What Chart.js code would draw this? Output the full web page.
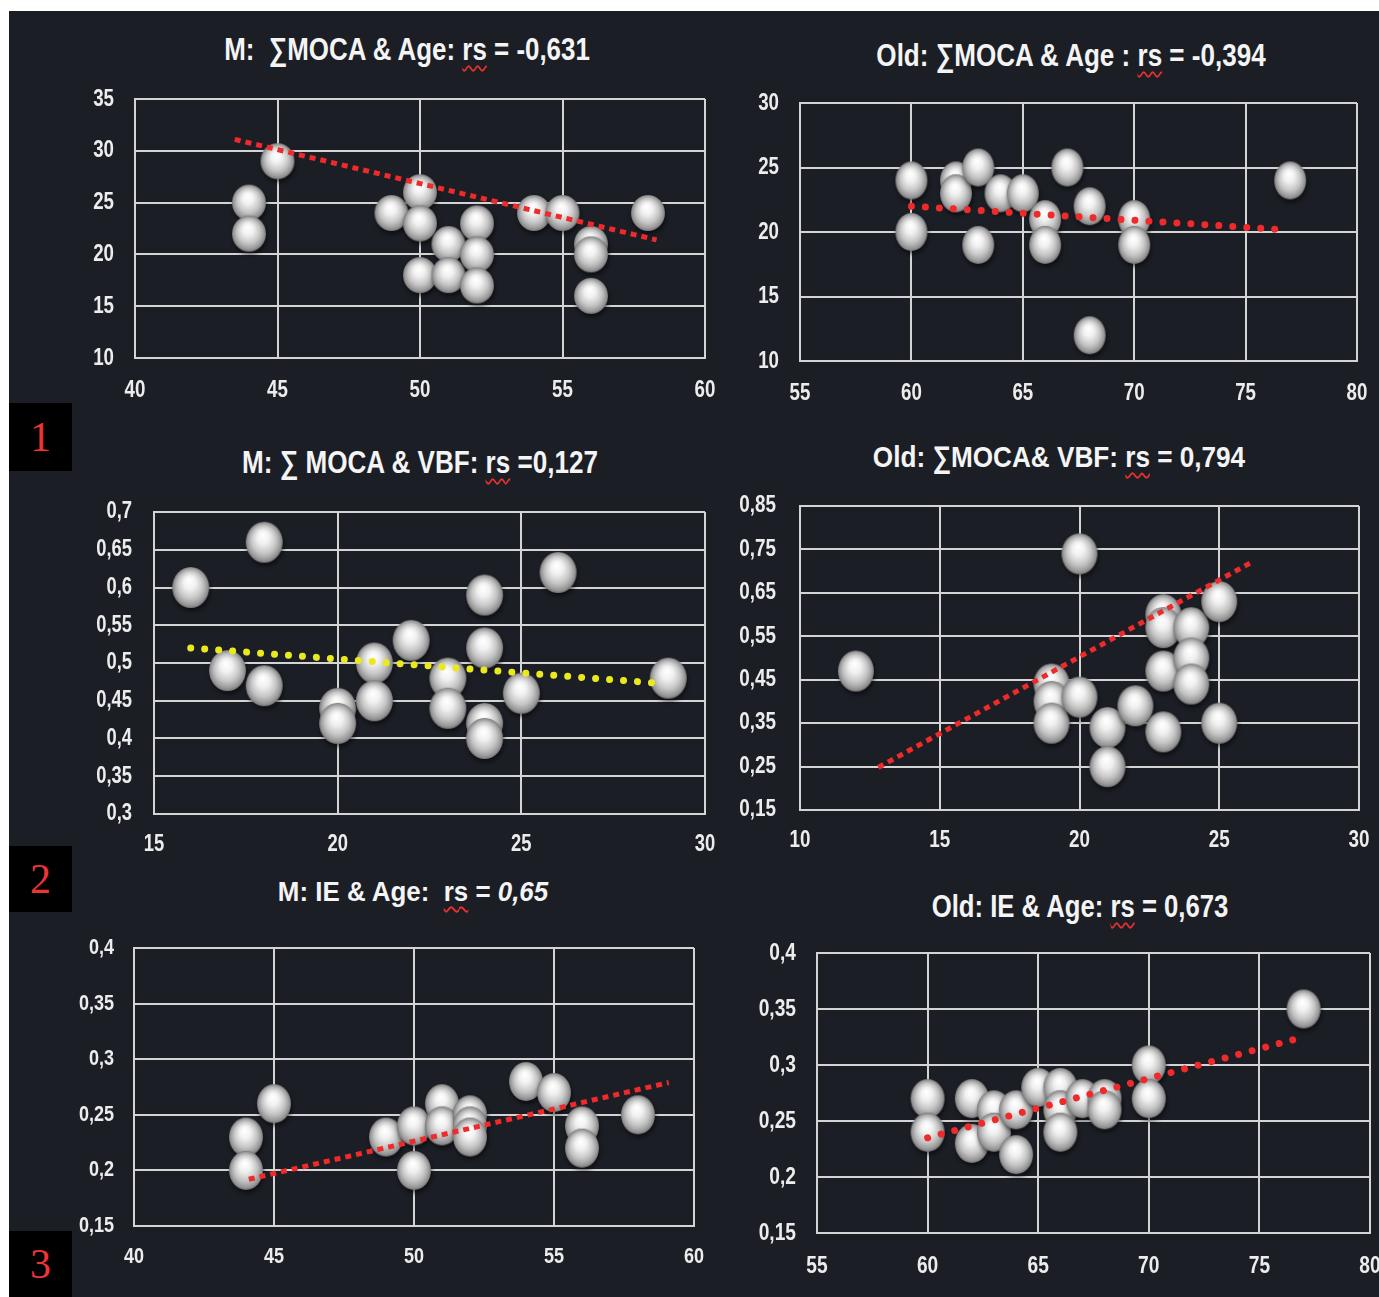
<!DOCTYPE html>
<html>
<head>
<meta charset="utf-8">
<script src="https://cdn.jsdelivr.net/npm/chart.js@4.4.1/dist/chart.umd.min.js"></script>
<style>
  html, body { margin: 0; padding: 0; background: #ffffff; }
  body { width: 1379px; height: 1297px; overflow: hidden; position: relative; }
  #panel { position: absolute; left: 9px; top: 11px; width: 1370px; height: 1286px; background: #1c1e26; }
  canvas { position: absolute; }
  .ttl { position: absolute; transform: translate(-50%, -50%); white-space: pre; color: #f4f4f4;
         font-family: 'Liberation Sans', Arial, sans-serif; font-weight: bold; line-height: 1; }
  .rs { text-decoration: underline wavy #e8312c; text-decoration-thickness: 1.5px; text-underline-offset: 5px; }
  .tag { position: absolute; left: 9px; width: 63px; background: #000000; color: #ee3434;
         font-family: 'Liberation Serif', 'Times New Roman', serif; font-size: 42px;
         display: flex; align-items: center; justify-content: center; }
</style>
</head>
<body>
<div id="panel"></div>
<div class="tag" style="top:403px;height:68px">1</div>
<div class="tag" style="top:846px;height:66px">2</div>
<div class="tag" style="top:1231px;height:66px">3</div>

<div class="ttl" data-w="366" style="left:407px;top:49px;font-size:32px">M:  ∑MOCA &amp; Age: <span class="rs">rs</span> = -0,631</div>
<div class="ttl" data-w="389" style="left:1071px;top:55px;font-size:32px">Old: ∑MOCA &amp; Age : <span class="rs">rs</span> = -0,394</div>
<div class="ttl" data-w="356" style="left:420px;top:462px;font-size:32px">M: ∑ MOCA &amp; VBF: <span class="rs">rs</span> =0,127</div>
<div class="ttl" data-w="372" style="left:1059px;top:457px;font-size:30px">Old: ∑MOCA&amp; VBF: <span class="rs">rs</span> = 0,794</div>
<div class="ttl" data-w="270" style="left:413px;top:892px;font-size:28px">M: IE &amp; Age:  <span class="rs">rs</span> = <i>0,65</i></div>
<div class="ttl" data-w="297" style="left:1080px;top:906px;font-size:32px">Old: IE &amp; Age: <span class="rs">rs</span> = 0,673</div>

<script>
// ---- 1: M group, MOCA total vs age ----
const c1Age   = [44, 44, 45, 49, 50, 50, 50, 51, 51, 52, 52, 52, 54, 55, 56, 56, 56, 58];
const c1Moca  = [25, 22, 29, 24, 26, 23, 18, 21, 18, 23, 20, 17, 24, 24, 21, 20, 16, 24];
const c1FitX  = [43.5, 58.3];
const c1FitY  = [31.1, 21.4];
const c1XTicks = [40, 45, 50, 55, 60];
const c1YTicks = [10, 15, 20, 25, 30, 35];

// ---- 1: Old group, MOCA total vs age ----
const c2Age   = [60, 60, 62, 62, 63, 63, 64, 65, 66, 66, 67, 68, 68, 70, 70, 77];
const c2Moca  = [24, 20, 24, 23, 25, 19, 23, 23, 21, 19, 25, 22, 12, 21, 19, 24];
const c2FitX  = [60, 76.5];
const c2FitY  = [22.0, 20.2];
const c2XTicks = [55, 60, 65, 70, 75, 80];
const c2YTicks = [10, 15, 20, 25, 30];

// ---- 2: M group, MOCA total vs VBF ----
const c3Moca  = [16, 17, 18, 18, 20, 20, 21, 21, 22, 23, 23, 24, 24, 24, 24, 25, 26, 29];
const c3Vbf   = [0.60, 0.49, 0.66, 0.47, 0.44, 0.42, 0.50, 0.45, 0.53, 0.48, 0.44, 0.59, 0.52, 0.42, 0.40, 0.46, 0.62, 0.48];
const c3FitX  = [16, 28.8];
const c3FitY  = [0.52, 0.473];
const c3XTicks = [15, 20, 25, 30];
const c3YTicks = [0.3, 0.35, 0.4, 0.45, 0.5, 0.55, 0.6, 0.65, 0.7];

// ---- 2: Old group, MOCA total vs VBF ----
const c4Moca  = [12, 19, 19, 19, 20, 20, 21, 21, 22, 23, 23, 23, 23, 24, 24, 24, 25, 25];
const c4Vbf   = [0.47, 0.44, 0.40, 0.35, 0.74, 0.41, 0.34, 0.25, 0.39, 0.60, 0.57, 0.47, 0.33, 0.57, 0.50, 0.44, 0.63, 0.35];
const c4FitX  = [12.8, 26.2];
const c4FitY  = [0.248, 0.722];
const c4XTicks = [10, 15, 20, 25, 30];
const c4YTicks = [0.15, 0.25, 0.35, 0.45, 0.55, 0.65, 0.75, 0.85];

// ---- 3: M group, IE vs age ----
const c5Age   = [44, 44, 45, 49, 50, 50, 51, 51, 52, 52, 52, 54, 55, 56, 56, 58];
const c5Ie    = [0.23, 0.20, 0.26, 0.23, 0.24, 0.20, 0.26, 0.24, 0.25, 0.24, 0.23, 0.28, 0.27, 0.24, 0.22, 0.25];
const c5FitX  = [44.1, 59.1];
const c5FitY  = [0.192, 0.279];
const c5XTicks = [40, 45, 50, 55, 60];
const c5YTicks = [0.15, 0.2, 0.25, 0.3, 0.35, 0.4];

// ---- 3: Old group, IE vs age ----
const c6Age   = [60, 60, 62, 62, 63, 63, 64, 64, 65, 66, 66, 66, 67, 68, 68, 70, 70, 77];
const c6Ie    = [0.27, 0.24, 0.27, 0.23, 0.26, 0.24, 0.26, 0.22, 0.28, 0.28, 0.26, 0.24, 0.27, 0.27, 0.26, 0.30, 0.27, 0.35];
const c6FitX  = [60, 76.8];
const c6FitY  = [0.235, 0.324];
const c6XTicks = [55, 60, 65, 70, 75, 80];
const c6YTicks = [0.15, 0.2, 0.25, 0.3, 0.35, 0.4];

const GRID = '#d4d4d4';
const TXT = '#ececec';
const FONT = "'Liberation Sans', Arial, sans-serif";
const RED = '#ee2a2a';
const YELLOW = '#e9e91c';

// narrow the heading text horizontally to its column width
document.querySelectorAll('.ttl').forEach(el => {
  const k = Number(el.dataset.w) / el.offsetWidth;
  el.style.transform = `translate(-50%, -50%) scaleX(${k})`;
});

// Shaded silver sphere used as the marker image
function ball(w, h) {
  const pad = 7;
  const c = document.createElement('canvas');
  c.width = w + pad * 2; c.height = h + pad * 2;
  const g = c.getContext('2d');
  const cx = c.width / 2, cy = c.height / 2;
  g.save();
  g.filter = 'blur(2px)';
  g.fillStyle = 'rgba(0,0,0,0.55)';
  g.beginPath(); g.ellipse(cx + 1, cy + 3, w / 2, h / 2, 0, 0, Math.PI * 2); g.fill();
  g.restore();
  g.save();
  g.translate(cx, cy); g.scale(1, h / w);
  const r = w / 2;
  const grad = g.createRadialGradient(-r * 0.08, -r * 0.35, r * 0.04, 0, 0, r);
  grad.addColorStop(0, '#ffffff');
  grad.addColorStop(0.3, '#f1f1f1');
  grad.addColorStop(0.65, '#c6c6c6');
  grad.addColorStop(0.9, '#979797');
  grad.addColorStop(1, '#767676');
  g.fillStyle = grad;
  g.beginPath(); g.arc(0, 0, r, 0, Math.PI * 2); g.fill();
  g.restore();
  return c;
}

const fmt = v => String(v).replace('.', ',');

// Tall, narrow tick numbers placed at the scale's own tick positions
const narrowTicks = {
  id: 'narrowTicks',
  afterDraw(chart, args, o) {
    const { ctx, chartArea } = chart;
    const xs = chart.scales.x, ys = chart.scales.y;
    ctx.save();
    ctx.fillStyle = TXT;
    ctx.font = `bold ${o.size}px ${FONT}`;
    ctx.textBaseline = 'middle';
    xs.ticks.forEach(t => {
      ctx.save();
      ctx.translate(xs.getPixelForValue(t.value), chartArea.bottom + o.xGap);
      ctx.scale(o.sx, 1);
      ctx.textAlign = 'center';
      ctx.fillText(fmt(t.value), 0, 0);
      ctx.restore();
    });
    ys.ticks.forEach(t => {
      ctx.save();
      ctx.translate(chartArea.left - o.yGap, ys.getPixelForValue(t.value));
      ctx.scale(o.sx, 1);
      ctx.textAlign = 'right';
      ctx.fillText(fmt(t.value), 0, 0);
      ctx.restore();
    });
    ctx.restore();
  }
};

const squareDots = { borderWidth: 5, borderDash: [6, 5], borderCapStyle: 'butt' };
const roundDots  = { borderWidth: 7, borderDash: [0.001, 14], borderCapStyle: 'round' };

const charts = [
  { area: [135, 99, 705, 358],   x: c1Age,  y: c1Moca, fx: c1FitX, fy: c1FitY, xt: c1XTicks, yt: c1YTicks, lbl: { size: 24, sx: 0.78, xGap: 32, yGap: 21 }, ball: [34, 36], color: RED,    dots: squareDots },
  { area: [800, 103, 1357, 361], x: c2Age,  y: c2Moca, fx: c2FitX, fy: c2FitY, xt: c2XTicks, yt: c2YTicks, lbl: { size: 24, sx: 0.78, xGap: 32, yGap: 21 }, ball: [32, 38], color: RED,    dots: roundDots },
  { area: [154, 512, 705, 814],  x: c3Moca, y: c3Vbf,  fx: c3FitX, fy: c3FitY, xt: c3XTicks, yt: c3YTicks, lbl: { size: 23, sx: 0.8, xGap: 31, yGap: 22 }, ball: [37, 41], color: YELLOW, dots: roundDots },
  { area: [800, 506, 1359, 810], x: c4Moca, y: c4Vbf,  fx: c4FitX, fy: c4FitY, xt: c4XTicks, yt: c4YTicks, lbl: { size: 23, sx: 0.82, xGap: 31, yGap: 24 }, ball: [36, 41], color: RED,    dots: squareDots },
  { area: [134, 948, 694, 1226], x: c5Age,  y: c5Ie,   fx: c5FitX, fy: c5FitY, xt: c5XTicks, yt: c5YTicks, lbl: { size: 22, sx: 0.82, xGap: 31, yGap: 20 }, ball: [34, 39], color: RED,    dots: squareDots },
  { area: [817, 953, 1370, 1233], x: c6Age, y: c6Ie,   fx: c6FitX, fy: c6FitY, xt: c6XTicks, yt: c6YTicks, lbl: { size: 24, sx: 0.8, xGap: 33, yGap: 21 }, ball: [34, 39], color: RED,    dots: roundDots }
];

function build(spec) {
  const padL = 90, padT = 20, padR = 30, padB = 60;
  const [l, t, r, b] = spec.area;
  const W = r - l + padL + padR, H = b - t + padT + padB;
  const cv = document.createElement('canvas');
  cv.width = W; cv.height = H;
  cv.style.left = (l - padL) + 'px'; cv.style.top = (t - padT) + 'px';
  cv.style.width = W + 'px'; cv.style.height = H + 'px';
  document.body.appendChild(cv);

  const axis = (ticks, fit) => ({
    type: 'linear',
    min: ticks[0],
    max: ticks[ticks.length - 1],
    afterBuildTicks: s => { s.ticks = ticks.map(v => ({ value: v })); },
    afterFit: fit,
    grid: { color: GRID, lineWidth: 2, drawTicks: false },
    border: { display: true, color: GRID, width: 2 },
    ticks: { display: false }
  });

  new Chart(cv, {
    type: 'scatter',
    data: {
      datasets: [
        {
          data: spec.x.map((v, i) => ({ x: v, y: spec.y[i] })),
          pointStyle: ball(spec.ball[0], spec.ball[1]),
          order: 1,
          clip: false
        },
        Object.assign({
          data: spec.fx.map((v, i) => ({ x: v, y: spec.fy[i] })),
          showLine: true,
          pointRadius: 0,
          borderColor: spec.color,
          order: 0,
          clip: false
        }, spec.dots)
      ]
    },
    options: {
      responsive: false,
      animation: false,
      devicePixelRatio: 1,
      events: [],
      layout: { padding: { left: 0, top: padT, right: padR, bottom: 0 } },
      plugins: {
        legend: { display: false },
        tooltip: { enabled: false },
        title: { display: false },
        narrowTicks: spec.lbl
      },
      scales: {
        x: axis(spec.xt, s => { s.height = padB; }),
        y: axis(spec.yt, s => { s.width = padL; })
      }
    },
    plugins: [narrowTicks]
  });
}

charts.forEach(build);
</script>
</body>
</html>
